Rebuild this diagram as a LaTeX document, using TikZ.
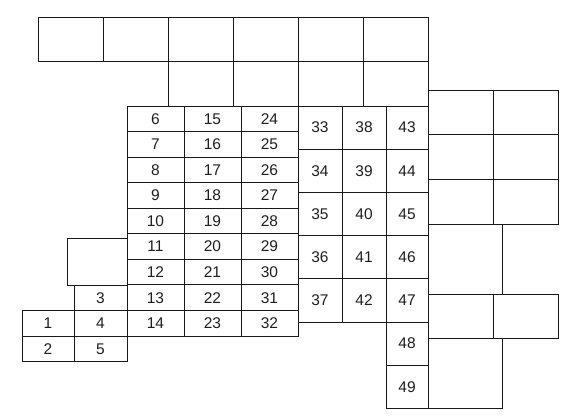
\documentclass[tikz,border=0pt]{standalone}
\usepackage{fontspec}
\setmainfont{Liberation Sans}
\usetikzlibrary{positioning}
\definecolor{cLine}{RGB}{25,25,25}
\definecolor{cText}{RGB}{30,30,30}
\tikzset{
  basecell/.style={rectangle, draw=cLine, line width=0.9pt, inner sep=0pt,
                   outer sep=0pt, anchor=north west, text=cText,
                   font=\fontsize{15.5}{18}\selectfont},
  topcell/.style={basecell, minimum width=65pt, minimum height=44pt},
  sidecell/.style={basecell, minimum width=65pt, minimum height=44.7pt},
  tallcell/.style={basecell, minimum width=74pt, minimum height=70pt},
  gridcell/.style={basecell, minimum width=57pt, minimum height=25.56pt},
  blockcell/.style={basecell, minimum height=43.2pt},
  leftcell/.style={basecell, minimum height=25.5pt}
}

\begin{document}
\begin{tikzpicture}[x=1pt, y=-1pt]
  \useasboundingbox (0,0) rectangle (571,417);

  % blank rows on top
  \foreach \i in {0,...,5}
    \node[topcell] (top\i) at ({38+65*\i},17) {};
  \foreach \i in {0,...,3}
    \node[topcell, minimum height=45pt] (sec\i) at ({168+65*\i},61) {};

  % numbered grid 6--32
  \foreach \c in {0,1,2}
    \foreach \r in {0,...,8} {
      \pgfmathtruncatemacro{\n}{6+9*\c+\r}
      \node[gridcell] (g\n) at ({127+57*\c},{106+25.56*\r}) {\n};
    }

  % numbered block 33--47
  \foreach \c/\x/\w in {0/298/44, 1/342/44, 2/386/42}
    \foreach \r in {0,...,4} {
      \pgfmathtruncatemacro{\n}{33+5*\c+\r}
      \node[blockcell, minimum width=\w pt] (b\n) at (\x,{106+43.2*\r}) {\n};
    }
  \node[blockcell, minimum width=42pt] (b48) at (386,322) {48};
  \node[blockcell, minimum width=42pt, minimum height=43.5pt] (b49) at (386,365.2) {49};

  % blank cells on the right
  \foreach \r in {0,1,2} {
    \node[sidecell] (ra\r) at (428,{90+44.7*\r}) {};
    \node[sidecell] (rb\r) at (493,{90+44.7*\r}) {};
  }
  \node[tallcell] (tall1) at (428,224.1) {};
  \node[sidecell] (rc0) at (428,294) {};
  \node[sidecell] (rc1) at (493,294) {};
  \node[tallcell] (tall2) at (428,338.7) {};

  % cells on the left
  \node[basecell, minimum width=60pt, minimum height=47pt] (blank) at (67,238) {};
  \node[leftcell, minimum width=53pt] (l3) at (74,285) {3};
  \node[leftcell, minimum width=52pt] (l1) at (22,310.5) {1};
  \node[leftcell, minimum width=53pt] (l4) at (74,310.5) {4};
  \node[leftcell, minimum width=52pt] (l2) at (22,336) {2};
  \node[leftcell, minimum width=53pt] (l5) at (74,336) {5};
\end{tikzpicture}
\end{document}
